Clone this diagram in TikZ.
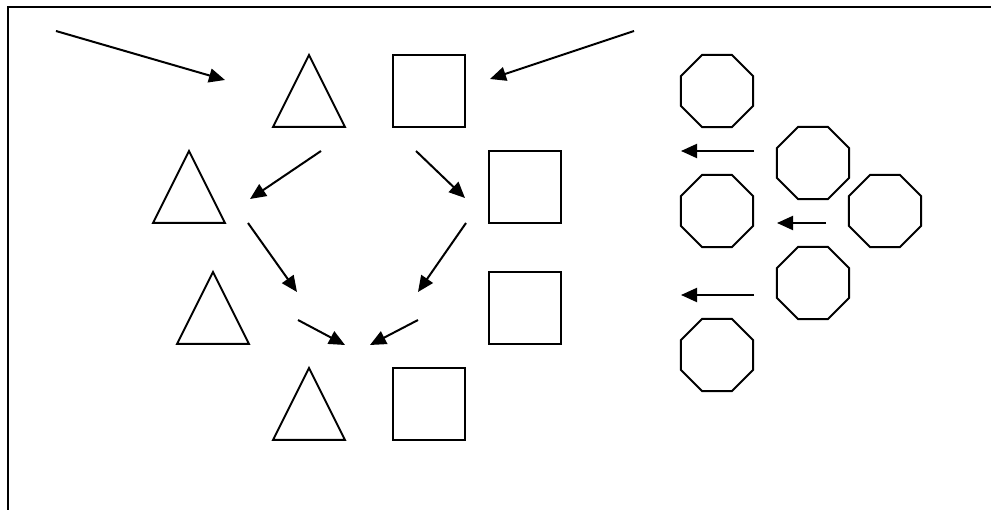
\documentclass[tikz,border=0pt]{standalone}
\usetikzlibrary{shapes.geometric,arrows.meta}
\begin{document}
\begin{tikzpicture}[x=1pt,y=-1pt,
    tri/.style={draw,line width=2pt,isosceles triangle,isosceles triangle stretches,
      shape border rotate=90,minimum width=72pt,minimum height=72pt,
      inner sep=0pt,outer sep=0pt,anchor=apex},
    sq/.style={draw,line width=2pt,rectangle,minimum size=72pt,inner sep=0pt,outer sep=0pt},
    oct/.style={draw,line width=2pt,regular polygon,regular polygon sides=8,
      minimum size=78pt,inner sep=0pt,outer sep=0pt},
    arr/.style={-{Triangle[length=16pt,width=14pt]},line width=2pt}]
  \useasboundingbox (0,0) rectangle (991,510);
  \draw[line width=2pt] (991,7) -- (8,7) -- (8,510);
  \def \Triangles{
    t1/309/55,
    t2/189/151,
    t3/213/272,
    t4/309/368}
  \def \Squares{
    s1/429/91,
    s2/525/187,
    s3/525/308,
    s4/429/404}
  \def \Octagons{
    o1/717/91,
    o2/813/163,
    o3/717/211,
    o4/885/211,
    o5/813/283,
    o6/717/355}
  \def \Arrows{
    1/56/31/225/80,
    2/634/31/490/79,
    3/321/151/250/199,
    4/416/151/465/198,
    5/248/223/297/292,
    6/466/223/418/292,
    7/298/320/345/345,
    8/418/320/370/345,
    9/754/151/681/151,
    10/826/223/777/223,
    11/754/295/681/295}
  \foreach \id / \x / \y in \Triangles{
    \node[tri] (\id) at (\x, \y) {};
  }
  \foreach \id / \x / \y in \Squares{
    \node[sq] (\id) at (\x, \y) {};
  }
  \foreach \id / \x / \y in \Octagons{
    \node[oct] (\id) at (\x, \y) {};
  }
  \foreach \id / \xa / \ya / \xb / \yb in \Arrows{
    \coordinate (from\id) at (\xa, \ya);
    \coordinate (to\id) at (\xb, \yb);
    \draw[arr] (from\id) -- (to\id);
  }
\end{tikzpicture}
\end{document}
